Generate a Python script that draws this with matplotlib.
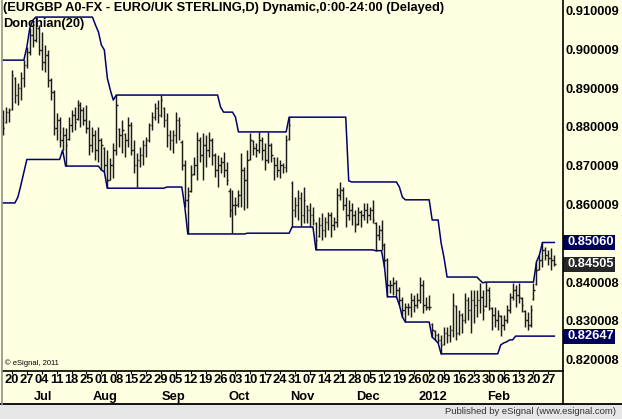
import numpy as np
import pandas as pd
import matplotlib
matplotlib.use('Agg')
import matplotlib.pyplot as plt
from matplotlib.lines import Line2D
from matplotlib.patches import Rectangle

plt.rcParams['font.family'] = ['Liberation Sans', 'DejaVu Sans']

# EURGBP daily bars, 15 Jun 2011 - 29 Feb 2012, prices in pips (1 pip = 0.0001)
open_pips = [
    8830, 8816, 8842, 8850, 8930, 8886, 8904, 8930, 8964, 8997,
    9041, 9028, 9060, 9002, 8971, 8989, 8925, 8894, 8801, 8822,
    8770, 8783, 8772, 8809, 8835, 8824, 8860, 8848, 8822, 8801,
    8757, 8783, 8744, 8770, 8750, 8706, 8668, 8706, 8744, 8798,
    8783, 8786, 8770, 8809, 8744, 8706, 8719, 8731, 8757, 8770,
    8809, 8829, 8853, 8835, 8852, 8822, 8783, 8770, 8783, 8822,
    8765, 8706, 8616, 8640, 8682, 8706, 8770, 8731, 8757, 8744,
    8770, 8731, 8693, 8706, 8713, 8693, 8640, 8590, 8603, 8605,
    8628, 8693, 8667, 8722, 8768, 8750, 8744, 8770, 8744, 8719,
    8757, 8724, 8706, 8693, 8706, 8701, 8772, 8660, 8590, 8603,
    8621, 8577, 8600, 8590, 8577, 8556, 8522, 8551, 8538, 8559,
    8577, 8551, 8559, 8628, 8641, 8603, 8577, 8590, 8577, 8553,
    8585, 8577, 8590, 8577, 8590, 8556, 8525, 8538, 8500, 8461,
    8397, 8397, 8402, 8384, 8358, 8332, 8340, 8340, 8358, 8345,
    8358, 8397, 8345, 8340, 8296, 8278, 8268, 8255, 8244, 8273,
    8268, 8280, 8343, 8273, 8319, 8306, 8358, 8332, 8358, 8345,
    8358, 8366, 8342, 8384, 8338, 8319, 8306, 8317, 8293, 8306,
    8332, 8366, 8384, 8371, 8364, 8330, 8306, 8293, 8360, 8399,
    8437, 8461, 8487, 8474, 8466, 8461,
]
high_pips = [
    8848, 8855, 8853, 8951, 8933, 8917, 8946, 8976, 9010, 9059,
    9079, 9087, 9067, 9049, 9015, 9002, 8930, 8899, 8840, 8829,
    8804, 8801, 8829, 8848, 8855, 8873, 8868, 8855, 8860, 8822,
    8804, 8796, 8804, 8775, 8752, 8744, 8724, 8762, 8886, 8801,
    8822, 8788, 8829, 8817, 8770, 8737, 8752, 8770, 8778, 8814,
    8842, 8866, 8873, 8886, 8855, 8840, 8796, 8796, 8842, 8829,
    8770, 8719, 8649, 8706, 8726, 8791, 8778, 8788, 8783, 8791,
    8775, 8737, 8731, 8726, 8739, 8713, 8646, 8641, 8623, 8641,
    8737, 8701, 8744, 8788, 8770, 8762, 8791, 8778, 8762, 8791,
    8762, 8726, 8726, 8719, 8711, 8783, 8829, 8665, 8623, 8641,
    8636, 8649, 8603, 8608, 8598, 8559, 8572, 8582, 8572, 8585,
    8585, 8572, 8646, 8662, 8649, 8623, 8616, 8608, 8590, 8598,
    8590, 8608, 8608, 8598, 8616, 8559, 8551, 8564, 8505, 8466,
    8409, 8417, 8409, 8391, 8366, 8350, 8350, 8376, 8371, 8376,
    8417, 8409, 8366, 8371, 8299, 8280, 8273, 8268, 8288, 8288,
    8293, 8376, 8345, 8332, 8324, 8376, 8366, 8384, 8384, 8384,
    8402, 8384, 8404, 8391, 8340, 8340, 8332, 8319, 8319, 8345,
    8376, 8402, 8396, 8402, 8366, 8332, 8327, 8345, 8402, 8456,
    8474, 8506, 8494, 8487, 8492, 8474,
]
low_pips = [
    8783, 8814, 8817, 8848, 8866, 8860, 8873, 8907, 8956, 8989,
    9010, 9023, 8989, 8951, 8946, 8907, 8873, 8783, 8770, 8752,
    8744, 8703, 8770, 8791, 8796, 8822, 8804, 8809, 8788, 8731,
    8739, 8719, 8713, 8693, 8688, 8646, 8667, 8672, 8731, 8752,
    8737, 8726, 8752, 8731, 8685, 8649, 8701, 8706, 8726, 8765,
    8796, 8822, 8814, 8829, 8804, 8752, 8744, 8737, 8762, 8770,
    8693, 8598, 8528, 8636, 8680, 8667, 8713, 8667, 8701, 8726,
    8706, 8675, 8649, 8685, 8675, 8654, 8572, 8530, 8577, 8598,
    8598, 8590, 8595, 8719, 8731, 8726, 8737, 8719, 8693, 8711,
    8713, 8667, 8675, 8672, 8685, 8688, 8770, 8546, 8572, 8564,
    8549, 8556, 8556, 8546, 8551, 8487, 8520, 8512, 8520, 8538,
    8520, 8538, 8546, 8616, 8590, 8546, 8564, 8551, 8533, 8551,
    8546, 8564, 8556, 8564, 8556, 8485, 8512, 8487, 8443, 8366,
    8376, 8371, 8366, 8345, 8314, 8301, 8319, 8314, 8327, 8337,
    8350, 8324, 8332, 8332, 8262, 8255, 8247, 8219, 8242, 8247,
    8250, 8262, 8255, 8268, 8273, 8299, 8306, 8273, 8299, 8314,
    8324, 8306, 8340, 8332, 8280, 8288, 8280, 8264.7, 8280, 8299,
    8324, 8358, 8340, 8350, 8327, 8288, 8280, 8288, 8358, 8397,
    8435, 8443, 8461, 8448, 8435, 8445,
]
close_pips = [
    8801, 8842, 8848, 8938, 8886, 8904, 8930, 8964, 8997, 9041,
    9028, 9067, 9002, 8971, 8989, 8925, 8894, 8801, 8822, 8770,
    8783, 8757, 8809, 8835, 8817, 8860, 8848, 8822, 8801, 8757,
    8783, 8744, 8770, 8757, 8706, 8667, 8706, 8744, 8860, 8783,
    8796, 8770, 8809, 8744, 8706, 8719, 8731, 8757, 8770, 8809,
    8829, 8853, 8835, 8873, 8822, 8783, 8770, 8783, 8822, 8809,
    8706, 8616, 8628, 8680, 8706, 8770, 8731, 8757, 8744, 8770,
    8731, 8693, 8706, 8713, 8693, 8667, 8590, 8603, 8603, 8628,
    8693, 8667, 8719, 8770, 8750, 8744, 8770, 8744, 8719, 8757,
    8731, 8706, 8693, 8706, 8701, 8770, 8809, 8590, 8603, 8621,
    8577, 8616, 8590, 8577, 8564, 8512, 8551, 8538, 8559, 8577,
    8551, 8559, 8628, 8641, 8603, 8577, 8590, 8577, 8551, 8585,
    8577, 8590, 8577, 8590, 8564, 8525, 8538, 8500, 8461, 8397,
    8397, 8402, 8384, 8358, 8332, 8340, 8340, 8358, 8345, 8358,
    8397, 8345, 8340, 8340, 8280, 8268, 8255, 8242, 8273, 8268,
    8280, 8345, 8273, 8319, 8306, 8358, 8332, 8358, 8345, 8358,
    8366, 8332, 8384, 8358, 8319, 8306, 8319, 8293, 8306, 8332,
    8366, 8384, 8371, 8366, 8345, 8306, 8293, 8332, 8384, 8435,
    8461, 8487, 8474, 8466, 8461, 8450.5,
]

# channel levels still set by bars before the first one on screen
pre_upper_pips = [8976] * 20
pre_lower_pips = [8608, 8608, 8608, 8608, 8608, 8623, 8654, 8687] + [8720] * 12

price_ticks = [0.910009, 0.900009, 0.890009, 0.880009, 0.870009,
               0.860009, 0.840008, 0.830008, 0.820008]
period = 20

title = '(EURGBP A0-FX - EURO/UK STERLING,D) Dynamic,0:00-24:00 (Delayed)'
study = 'Donchian(%d)' % period

# colours / text size
BG = '#ffffe1'
BAR = '#1a1a1a'
NAVY = '#00006e'
FS = 9.3

o = np.array(open_pips) / 1e4
h = np.array(high_pips) / 1e4
l = np.array(low_pips) / 1e4
c = np.array(close_pips) / 1e4
n = len(c)
x = np.arange(n)
dates = pd.bdate_range('2011-06-15', periods=n)

# Donchian channel
upper = np.array([h[max(0, i - period + 1):i + 1].max() for i in range(n)])
lower = np.array([l[max(0, i - period + 1):i + 1].min() for i in range(n)])
upper[:period] = np.maximum(upper[:period], np.array(pre_upper_pips) / 1e4)
lower[:period] = np.minimum(lower[:period], np.array(pre_lower_pips) / 1e4)

W, H = 622, 419
fig = plt.figure(figsize=(W / 100, H / 100), dpi=100, facecolor=BG)
ax = fig.add_axes([2 / W, 48 / H, 561 / W, 371 / H])
ax.set_facecolor(BG)
ax.set_xlim(-0.34, 187.9)
ax.set_ylim(0.81748, 0.91310)
for s in ax.spines.values():
    s.set_visible(False)
ax.set_yticks([])

# OHLC bars
ax.vlines(x, l, h, color=BAR, lw=1.05)
ax.hlines(o, x - 0.45, x, color=BAR, lw=1.05)
ax.hlines(c, x, x + 0.45, color=BAR, lw=1.05)

ax.plot(x, upper, color=NAVY, lw=1.1)
ax.plot(x, lower, color=NAVY, lw=1.1)

# weekly ticks and date labels
mondays = [i for i, d in enumerate(dates) if d.weekday() == 0]
ax.set_xticks(mondays)
ax.tick_params(axis='x', length=2.5, width=0.8, color='black',
               labelbottom=False)
xt = ax.get_xaxis_transform()
for i in mondays:
    ax.text(i, -0.024, '%02d' % dates[i].day, transform=xt, ha='center',
            va='center', fontsize=FS, fontweight='bold')
for i in range(1, n):
    if dates[i].month != dates[i - 1].month:
        lab = str(dates[i].year) if dates[i].month == 1 else dates[i].strftime('%b')
        ax.text(i + 1.3, -0.07, lab, transform=xt, ha='center', va='center',
                fontsize=FS, fontweight='bold')

# price scale
yt = ax.get_yaxis_transform()
for t in price_ticks:
    ax.text(1.0036, t, '%.6f' % t, transform=yt, ha='left', va='center',
            fontsize=FS, fontweight='bold', clip_on=False)

hh = 7.5 / 3880
for val, col in [(upper[-1], '#00005a'), (c[-1], '#262626'), (lower[-1], '#00005a')]:
    ax.add_patch(Rectangle((1.0, val - hh), 0.0927, 2 * hh, transform=yt,
                           facecolor=col, edgecolor='none', clip_on=False))
    ax.text(1.0089, val, '%.5f' % val, transform=yt, ha='left', va='center',
            fontsize=FS, fontweight='bold', color='white', clip_on=False)

# frame lines and footer
fig.add_artist(Rectangle((0, 0), 1, 15 / H, transform=fig.transFigure,
                         facecolor='#e6e6e6', edgecolor='none'))
fig.add_artist(Line2D([0, 1], [15 / H, 15 / H], transform=fig.transFigure,
                      color='black', lw=1.3))
fig.add_artist(Line2D([2 / W, 563 / W], [48 / H, 48 / H], transform=fig.transFigure,
                      color='black', lw=1.2))
fig.add_artist(Line2D([563 / W, 563 / W], [15 / H, 1], transform=fig.transFigure,
                      color='black', lw=1.2))
fig.add_artist(Line2D([1.5 / W, 1.5 / W], [15 / H, 1], transform=fig.transFigure,
                      color='#909090', lw=1.2))

fig.text(3 / W, 1 - 2 / H, title, ha='left', va='top', fontsize=FS,
         fontweight='bold')
fig.text(3 / W, 1 - 18 / H, study, ha='left', va='top', fontsize=FS,
         fontweight='bold')
fig.text(5 / W, 1 - 363 / H, '\u00a9 eSignal, 2011', ha='left', va='center',
         fontsize=5.5)
fig.text(616 / W, 7.5 / H, 'Published by eSignal (www.esignal.com)', ha='right',
         va='center', fontsize=6.8, color='#333333')

fig.savefig('out.png', dpi=100, facecolor=BG)
